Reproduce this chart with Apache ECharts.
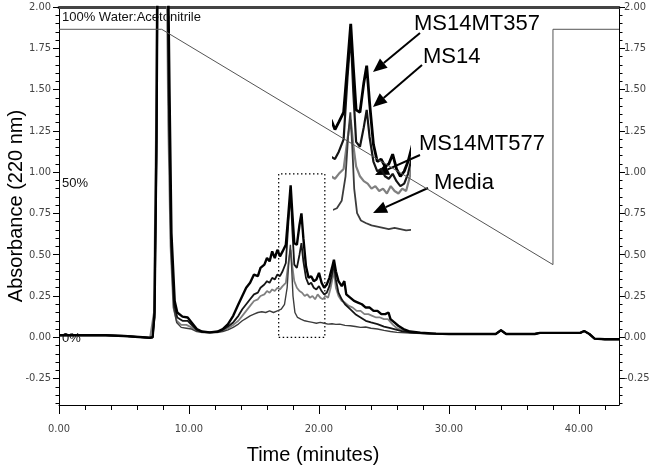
<!DOCTYPE html>
<html>
<head>
<meta charset="utf-8">
<script src="https://cdn.jsdelivr.net/npm/echarts@6/dist/echarts.min.js"></script>
<style>
  html, body { margin: 0; padding: 0; background: #fff; }
  #chart { width: 650px; height: 467px; }
</style>
</head>
<body>
<div id="chart"></div>
<script>
// shared flat baseline before the solvent peak and after the run
const baseHead = [[0, 0.012], [3.6, 0.012], [3.75, 0.008], [5.0, 0.008], [5.05, -0.003], [7.0, -0.003]];
const baseTail = [[30, 0.02], [33.6, 0.02], [34.0, 0.042], [34.4, 0.02], [36.6, 0.02], [37.0, 0.027],
  [40.1, 0.027], [40.4, 0.038], [40.8, 0.02], [41.2, -0.008], [42.0, -0.012], [43.08, -0.012]];

const ms14mt357 = [[7.2, 0.0], [7.35, 0.15], [7.5, 1.2], [7.6, 2.5], [8.35, 2.5], [8.5, 1.5], [8.65, 0.63],
  [8.9, 0.22], [9.1, 0.15], [9.5, 0.125], [9.9, 0.12], [10.2, 0.09], [10.6, 0.05], [11.0, 0.035], [11.6, 0.03],
  [12.2, 0.035], [12.6, 0.05], [13.0, 0.08], [13.4, 0.13], [13.8, 0.2], [14.1, 0.25], [14.4, 0.3], [14.7, 0.33],
  [15.0, 0.38], [15.3, 0.37], [15.5, 0.42], [15.8, 0.44], [16.0, 0.48], [16.2, 0.46], [16.4, 0.52], [16.6, 0.48],
  [16.8, 0.53], [17.0, 0.49], [17.2, 0.52], [17.45, 0.56], [17.65, 0.75], [17.82, 0.92], [17.95, 0.75],
  [18.1, 0.57], [18.3, 0.56], [18.5, 0.68], [18.65, 0.75], [18.8, 0.6], [19.0, 0.43], [19.2, 0.36], [19.4, 0.37],
  [19.6, 0.34], [19.8, 0.35], [20.0, 0.39], [20.2, 0.33], [20.4, 0.3], [20.6, 0.32], [20.8, 0.36], [21.0, 0.42],
  [21.15, 0.47], [21.3, 0.4], [21.5, 0.34], [21.75, 0.31], [21.95, 0.34], [22.1, 0.26], [22.4, 0.24],
  [22.7, 0.22], [23.0, 0.21], [23.3, 0.2], [23.6, 0.18], [23.9, 0.18], [24.2, 0.16], [24.5, 0.16], [24.8, 0.14],
  [25.1, 0.14], [25.35, 0.15], [25.5, 0.11], [25.8, 0.09], [26.1, 0.07], [26.5, 0.05], [27.0, 0.035],
  [27.8, 0.028], [29.0, 0.022]];

const ms14 = [[7.2, 0.0], [7.35, 0.12], [7.5, 1.1], [7.6, 2.5], [8.3, 2.5], [8.45, 1.4], [8.62, 0.6],
  [8.85, 0.2], [9.1, 0.12], [9.5, 0.1], [9.9, 0.1], [10.2, 0.075], [10.6, 0.045], [11.0, 0.033], [11.6, 0.03],
  [12.2, 0.033], [12.6, 0.045], [13.0, 0.065], [13.4, 0.09], [13.8, 0.13], [14.1, 0.17], [14.4, 0.2],
  [14.7, 0.23], [15.0, 0.26], [15.3, 0.27], [15.5, 0.3], [15.8, 0.32], [16.0, 0.34], [16.2, 0.33], [16.4, 0.36],
  [16.6, 0.35], [16.8, 0.38], [17.0, 0.37], [17.2, 0.4], [17.45, 0.45], [17.65, 0.7], [17.82, 0.88],
  [17.95, 0.65], [18.1, 0.44], [18.3, 0.42], [18.5, 0.5], [18.65, 0.57], [18.8, 0.46], [19.0, 0.36],
  [19.2, 0.32], [19.4, 0.33], [19.6, 0.3], [19.8, 0.29], [20.0, 0.31], [20.2, 0.28], [20.4, 0.26], [20.6, 0.27],
  [20.8, 0.31], [21.0, 0.38], [21.15, 0.44], [21.3, 0.35], [21.5, 0.27], [21.75, 0.23], [22.0, 0.2],
  [22.4, 0.17], [22.8, 0.14], [23.2, 0.12], [23.6, 0.1], [24.0, 0.09], [24.5, 0.08], [25.0, 0.065],
  [25.5, 0.055], [26.0, 0.045], [26.5, 0.035], [27.2, 0.028], [28.5, 0.022]];

const ms14mt577 = [[7.15, 0.0], [7.3, 0.15], [7.45, 1.2], [7.55, 2.5], [8.25, 2.5], [8.4, 1.3], [8.58, 0.55],
  [8.8, 0.18], [9.05, 0.1], [9.4, 0.075], [9.8, 0.075], [10.2, 0.06], [10.6, 0.04], [11.0, 0.03], [11.6, 0.028],
  [12.2, 0.03], [12.6, 0.04], [13.0, 0.055], [13.4, 0.075], [13.8, 0.1], [14.1, 0.13], [14.4, 0.16],
  [14.7, 0.19], [15.0, 0.22], [15.3, 0.23], [15.5, 0.25], [15.8, 0.26], [16.0, 0.28], [16.2, 0.27], [16.4, 0.29],
  [16.6, 0.28], [16.8, 0.3], [17.0, 0.29], [17.2, 0.31], [17.45, 0.33], [17.65, 0.45], [17.82, 0.53],
  [17.95, 0.43], [18.1, 0.34], [18.3, 0.3], [18.5, 0.28], [18.7, 0.27], [18.9, 0.25], [19.1, 0.26], [19.3, 0.24],
  [19.5, 0.25], [19.7, 0.23], [19.9, 0.26], [20.1, 0.24], [20.3, 0.23], [20.5, 0.25], [20.7, 0.24], [20.9, 0.3],
  [21.05, 0.36], [21.15, 0.4], [21.3, 0.3], [21.5, 0.25], [21.75, 0.22], [22.0, 0.21], [22.3, 0.19],
  [22.6, 0.18], [22.9, 0.16], [23.2, 0.16], [23.5, 0.14], [23.8, 0.14], [24.1, 0.13], [24.4, 0.12],
  [24.7, 0.12], [25.0, 0.11], [25.3, 0.11], [25.45, 0.1], [25.7, 0.075], [26.0, 0.055], [26.5, 0.04],
  [27.0, 0.03], [28.0, 0.024]];

const media = [[7.2, 0.0], [7.35, 0.12], [7.5, 1.1], [7.6, 2.5], [8.3, 2.5], [8.45, 1.3], [8.6, 0.55],
  [8.82, 0.18], [9.05, 0.09], [9.4, 0.06], [9.8, 0.055], [10.2, 0.05], [10.6, 0.035], [11.0, 0.03], [11.6, 0.028],
  [12.2, 0.03], [12.6, 0.035], [13.0, 0.045], [13.4, 0.06], [13.8, 0.08], [14.1, 0.1], [14.4, 0.115],
  [14.7, 0.13], [15.0, 0.14], [15.3, 0.15], [15.6, 0.155], [15.9, 0.15], [16.2, 0.16], [16.5, 0.15],
  [16.8, 0.16], [17.1, 0.17], [17.35, 0.2], [17.55, 0.3], [17.7, 0.48], [17.8, 0.56], [17.9, 0.42],
  [18.0, 0.25], [18.15, 0.15], [18.35, 0.12], [18.6, 0.11], [18.9, 0.1], [19.2, 0.095], [19.5, 0.09],
  [19.8, 0.085], [20.1, 0.09], [20.4, 0.085], [20.7, 0.08], [21.0, 0.082], [21.3, 0.078], [21.6, 0.08],
  [22.0, 0.072], [22.4, 0.07], [22.8, 0.065], [23.2, 0.06], [23.6, 0.062], [24.0, 0.055], [24.5, 0.05],
  [25.0, 0.042], [25.5, 0.035], [26.0, 0.03], [27.0, 0.025], [28.0, 0.022]];

// solvent gradient program, drawn on the absorbance scale
const gradient = [[0, 1.865], [7.9, 1.865], [38.0, 0.44], [38.0, 1.865], [43.08, 1.865]];

// dotted box = region shown enlarged in the inset
const zoomBox = [[16.9, 0], [20.45, 0.99]];

const xLabels = [0, 10, 20, 30, 40];
const xMinor = [2, 4, 6, 8, 12, 14, 16, 18, 22, 24, 26, 28, 32, 34, 36, 38, 42];
const yLabels = [-0.25, 0, 0.25, 0.5, 0.75, 1.0, 1.25, 1.5, 1.75, 2.0];
const yMinor = [];
for (let v = -40; v <= 200; v += 5) yMinor.push(v / 100);

const narrow = "'Liberation Sans Narrow', 'DejaVu Sans Condensed', sans-serif";
const sans = "'Liberation Sans', Arial, sans-serif";

const chart = echarts.init(document.getElementById('chart'));

function fmt(v) { return Number(v).toFixed(2); }

function yAx(pos, custom, len, labels) {
  return {
    type: 'value', gridIndex: 0, position: pos, min: -0.41, max: 2.0,
    splitLine: { show: false },
    axisLine: { show: labels, onZero: false, lineStyle: { color: '#000', width: 1 } },
    axisTick: { show: true, customValues: custom, length: len, lineStyle: { color: '#000' } },
    axisLabel: labels ? {
      customValues: yLabels, formatter: fmt, fontFamily: narrow, fontSize: 11, color: '#444',
      margin: pos === 'left' ? 8 : 5
    } : { show: false }
  };
}

function xAx(pos, custom, len, labels, lineW) {
  return {
    type: 'value', gridIndex: 0, position: pos, min: 0, max: 43.08,
    splitLine: { show: false },
    axisLine: { show: lineW > 0, onZero: false, lineStyle: { color: pos === 'top' ? '#444' : '#000', width: lineW } },
    axisTick: custom ? { show: true, customValues: custom, length: len, lineStyle: { color: '#000' } } : { show: false },
    axisLabel: labels ? {
      customValues: xLabels, formatter: fmt, fontFamily: narrow, fontSize: 11, color: '#444', margin: 19
    } : { show: false }
  };
}

const traces = [
  { name: 'MS14MT577', data: ms14mt577, color: '#808080', width: 1.8 },
  { name: 'Media', data: media, color: '#3c3c3c', width: 1.4 },
  { name: 'MS14', data: ms14, color: '#151515', width: 1.8 },
  { name: 'MS14MT357', data: ms14mt357, color: '#000000', width: 2.4 }
];

const series = [];
traces.forEach(function (t) {
  const full = baseHead.concat(t.data, baseTail);
  series.push({
    type: 'line', name: t.name, xAxisIndex: 0, yAxisIndex: 0, data: full,
    showSymbol: false, clip: true, lineStyle: { color: t.color, width: t.width }
  });
  series.push({
    type: 'line', name: t.name + ' inset', xAxisIndex: 3, yAxisIndex: 4, data: full,
    showSymbol: false, clip: true, lineStyle: { color: t.color, width: t.width + 0.4 }
  });
});

series.push({
  type: 'line', name: 'gradient', xAxisIndex: 0, yAxisIndex: 0, data: gradient,
  showSymbol: false, lineStyle: { color: '#555', width: 1 },
  markArea: {
    silent: true,
    itemStyle: { color: 'rgba(0,0,0,0)', borderColor: '#000', borderWidth: 1.2, borderType: [1.5, 2.5] },
    data: [[{ coord: zoomBox[0] }, { coord: zoomBox[1] }]]
  }
});

// annotation arrows: [startX, startY, tipX, tipY]
const arrows = [[420, 33, 373, 72], [422, 65, 373, 107], [420, 155, 375, 175], [428, 188, 373, 213]];
const labels = [
  ['MS14MT357', 414, 24], ['MS14', 423, 57], ['MS14MT577', 419, 144], ['Media', 434, 183]
];

const graphic = [];
arrows.forEach(function (a) {
  const ang = Math.atan2(a[3] - a[1], a[2] - a[0]);
  const L = 14, W = 6;
  const bx = a[2] - L * Math.cos(ang), by = a[3] - L * Math.sin(ang);
  graphic.push({ type: 'line', shape: { x1: a[0], y1: a[1], x2: bx, y2: by }, style: { stroke: '#000', lineWidth: 2 } });
  graphic.push({
    type: 'polygon',
    shape: { points: [[a[2], a[3]], [bx + W * Math.sin(ang), by - W * Math.cos(ang)], [bx - W * Math.sin(ang), by + W * Math.cos(ang)]] },
    style: { fill: '#000' }
  });
});
labels.forEach(function (l) {
  graphic.push({ type: 'text', x: l[1], y: l[2], style: { text: l[0], font: '22px ' + sans, fill: '#000', textVerticalAlign: 'middle' } });
});
[['100% Water:Acetonitrile', 17], ['50%', 183], ['0%', 338]].forEach(function (g) {
  graphic.push({ type: 'text', x: 62, y: g[1], style: { text: g[0], font: '13px ' + sans, fill: '#111', textVerticalAlign: 'middle' } });
});

chart.setOption({
  animation: false,
  backgroundColor: '#fff',
  grid: [
    { left: 59, right: 31, top: 7, bottom: 62, outerBoundsMode: 'none', containLabel: false },
    { left: 334, width: 75, top: 20, height: 230, outerBoundsMode: 'none', containLabel: false }
  ],
  xAxis: [
    Object.assign(xAx('bottom', xLabels, 9, true, 1), {
      name: 'Time (minutes)', nameLocation: 'middle', nameGap: 40,
      nameTextStyle: { fontFamily: sans, fontSize: 20, color: '#000', padding: [0, 52, 0, 0] }
    }),
    xAx('bottom', xMinor, 5, false, 0),
    xAx('top', null, 0, false, 3),
    { type: 'value', gridIndex: 1, min: 16.95, max: 20.85, show: false }
  ],
  yAxis: [
    Object.assign(yAx('left', yLabels, 6, true), {
      name: 'Absorbance (220 nm)', nameLocation: 'middle', nameGap: 33, nameMoveOverlap: false,
      nameTextStyle: { fontFamily: sans, fontSize: 20, color: '#000' }
    }),
    yAx('left', yMinor, 3.5, false),
    yAx('right', yLabels, 6, true),
    yAx('right', yMinor, 3.5, false),
    { type: 'value', gridIndex: 1, min: 0, max: 0.936, show: false }
  ],
  graphic: graphic,
  series: series
});
</script>
</body>
</html>
